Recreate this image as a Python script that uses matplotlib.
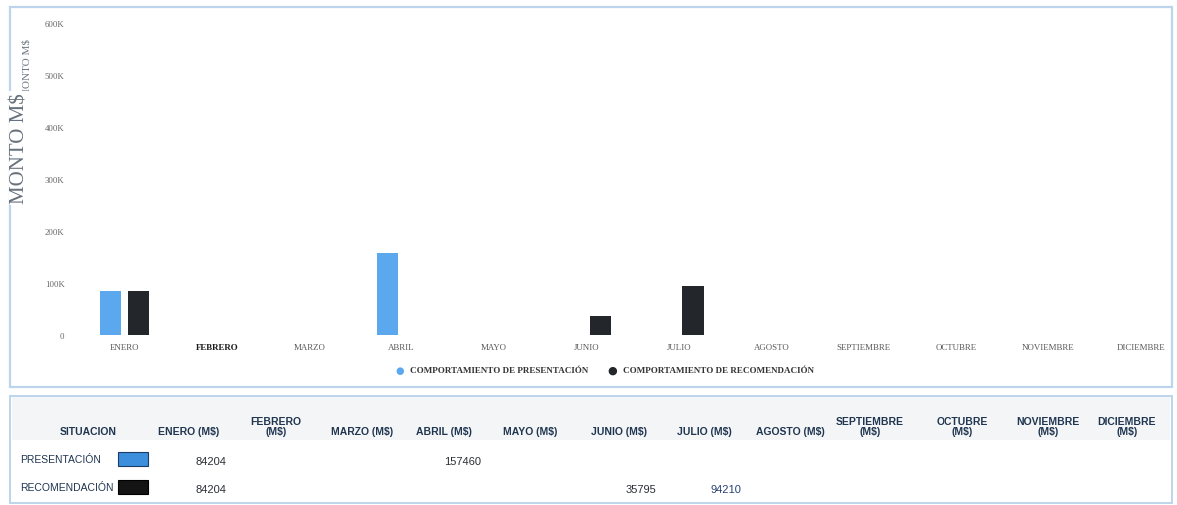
import numpy as np
import matplotlib
matplotlib.use("Agg")
import matplotlib.pyplot as plt
from matplotlib.patches import Rectangle

W, H = 1177, 506

meses = ["ENERO", "FEBRERO", "MARZO", "ABRIL", "MAYO", "JUNIO", "JULIO",
         "AGOSTO", "SEPTIEMBRE", "OCTUBRE", "NOVIEMBRE", "DICIEMBRE"]
presentacion = [84204, np.nan, np.nan, 157460, np.nan, np.nan, np.nan,
                np.nan, np.nan, np.nan, np.nan, np.nan]
recomendacion = [84204, np.nan, np.nan, np.nan, np.nan, 35795, 94210,
                 np.nan, np.nan, np.nan, np.nan, np.nan]
yticks = [0, 100000, 200000, 300000, 400000, 500000, 600000]
ytick_labels = ["0", "100K", "200K", "300K", "400K", "500K", "600K"]
table_headers = ["SITUACION", "ENERO (M$)", "FEBRERO\n(M$)", "MARZO (M$)", "ABRIL (M$)",
                 "MAYO (M$)", "JUNIO (M$)", "JULIO (M$)", "AGOSTO (M$)",
                 "SEPTIEMBRE\n(M$)", "OCTUBRE\n(M$)", "NOVIEMBRE\n(M$)", "DICIEMBRE\n(M$)"]
series_names = ["PRESENTACIÓN", "RECOMENDACIÓN"]
legend_labels = ["COMPORTAMIENTO DE PRESENTACIÓN", "COMPORTAMIENTO DE RECOMENDACIÓN"]

BLUE = "#5ba8ee"
BLACK = "#23272b"
SW_BLUE = "#3b8fdc"
SW_BLACK = "#141414"
SERIF = "Liberation Serif"

fig = plt.figure(figsize=(W / 100, H / 100), dpi=100)
fig.patch.set_facecolor("white")


def fx(x):
    return x / W


def fy(y):
    return 1 - y / H


# panel borders
fig.add_artist(Rectangle((fx(10), fy(388)), fx(1162), (380) / H, transform=fig.transFigure,
                         fill=False, edgecolor="#bcd5ec", linewidth=1.6))
fig.add_artist(Rectangle((fx(10), fy(504)), fx(1162), (107) / H, transform=fig.transFigure,
                         fill=False, edgecolor="#bcd5ec", linewidth=1.4))

# chart axes
ax_left, ax_right, ax_top, ax_bot = 77, 1172, 20, 336
ax = fig.add_axes([fx(ax_left), fy(ax_bot), (ax_right - ax_left) / W, (ax_bot - ax_top) / H])
ax.patch.set_alpha(0)
x = np.arange(len(meses))
bw = 0.23
off = 0.152
ax.bar(x - off, presentacion, width=bw, color=BLUE, zorder=3)
ax.bar(x + off, recomendacion, width=bw, color=BLACK, zorder=3)
px_per_unit = 92.4
ax.set_xlim(-(124.5 - ax_left) / px_per_unit, (ax_right - 124.5) / px_per_unit)
ax.set_ylim(0, (ax_bot - ax_top) / 52.0 * 100000)
ax.set_yticks(yticks)
ax.set_yticklabels(ytick_labels, family=SERIF, fontsize=6.3, color="#666666")
ax.set_xticks(x)
ax.set_xticklabels(meses, family=SERIF, fontsize=6.4, color="#5a5a5a")
ax.get_xticklabels()[1].set_color("#1a1a1a")
ax.get_xticklabels()[1].set_fontweight("bold")
ax.tick_params(axis="both", length=0)
ax.tick_params(axis="y", pad=9)
ax.tick_params(axis="x", pad=6)
for s in ax.spines.values():
    s.set_visible(False)

# y-axis titles (small ghost + large)
fig.text(fx(27), fy(68), "MONTO M$", rotation=90, ha="center", va="center",
         family=SERIF, fontsize=8, color="#6d7784")
fig.text(fx(20), fy(149), "MONTO M$", rotation=90, ha="center", va="center",
         family=SERIF, fontsize=15, color="#67717c",
         bbox=dict(facecolor="white", edgecolor="none", pad=1))

# legend
leg_y = fy(371)
fig.text(fx(400), leg_y, "●", ha="center", va="center", color=BLUE, fontsize=7)
fig.text(fx(410), leg_y, legend_labels[0], ha="left", va="center", family=SERIF,
         fontsize=6.5, fontweight="bold", color="#333333")
fig.text(fx(612), leg_y, "●", ha="center", va="center", color=BLACK, fontsize=8)
fig.text(fx(623), leg_y, legend_labels[1], ha="left", va="center", family=SERIF,
         fontsize=6.5, fontweight="bold", color="#333333")

# table header background
fig.add_artist(Rectangle((fx(12), fy(441)), fx(1158), 43 / H, transform=fig.transFigure,
                         facecolor="#f4f5f6", edgecolor="none"))
col_x = [88, 189, 276, 362, 444, 530, 619, 704, 790, 870, 962, 1048, 1127]
for cx, h in zip(col_x, table_headers):
    fig.text(fx(cx), fy(437), h, ha="center", va="bottom", family="Liberation Sans",
             fontsize=7.5, fontweight="bold", color="#1f3550", linespacing=1.0)

row_y = [460, 488]
val_y = [462, 490]
swatch_colors = [SW_BLUE, SW_BLACK]
val_colors = [["#2b2f36"] * 12, ["#2b2f36"] * 6 + ["#2a4170"] + ["#2b2f36"] * 5]
for ry, vy, name, sc, vals, vcols in zip(row_y, val_y, series_names, swatch_colors,
                                         [presentacion, recomendacion], val_colors):
    fig.text(fx(20), fy(ry), name, ha="left", va="center", family="Liberation Sans",
             fontsize=7.5, color="#1f3550")
    fig.add_artist(Rectangle((fx(118), fy(ry + 7)), fx(30), 14 / H, transform=fig.transFigure,
                             facecolor=sc, edgecolor="#1c3d66" if sc == SW_BLUE else "#000000",
                             linewidth=0.8))
    for cx, v, vc in zip(col_x[1:], vals, vcols):
        if not np.isnan(v):
            fig.text(fx(cx + 37), fy(vy), f"{int(v)}", ha="right", va="center",
                     family="Liberation Sans", fontsize=8, color=vc)

fig.savefig("out.png", dpi=100, facecolor="white")
